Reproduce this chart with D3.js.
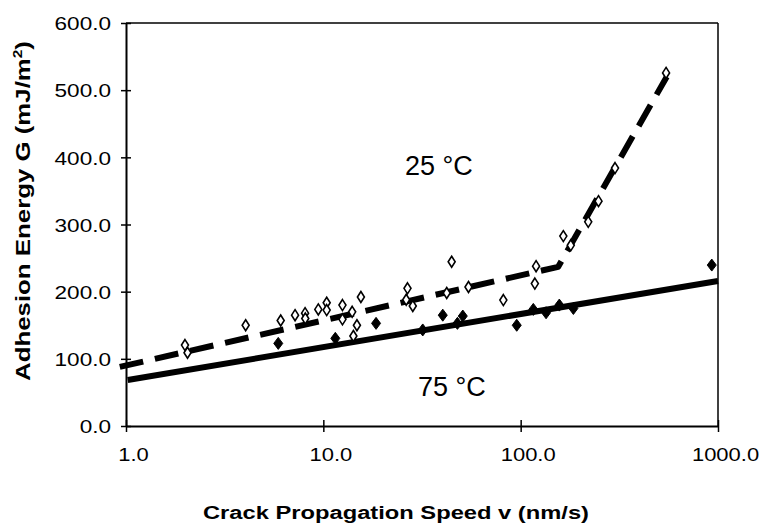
<!DOCTYPE html>
<html>
<head>
<meta charset="utf-8">
<script src="https://cdn.jsdelivr.net/npm/d3@7"></script>
<style>
  html, body { margin: 0; padding: 0; background: #fff; }
  svg { display: block; }
  text { font-family: Arial, "Liberation Sans", Helvetica, sans-serif; fill: #000; }
</style>
</head>
<body>
<svg id="chart" width="766" height="525"></svg>
<script>
// ---- data ----
const xTicks = [1, 10, 100, 1000];
const xTickLabels = ["1.0", "10.0", "100.0", "1000.0"];
const yTicks = [0, 100, 200, 300, 400, 500, 600];
const yTickLabels = ["0.0", "100.0", "200.0", "300.0", "400.0", "500.0", "600.0"];

// 25 °C measurements (open diamonds): speed v (nm/s), G (mJ/m²)
const v25 = [1.99, 2.05, 4.04, 6.08, 7.19, 8.08, 8.1, 9.43, 10.4, 10.4, 12.5, 12.5, 14.2, 14.8, 14.0, 15.5,
             26.7, 26.3, 28.4, 42.2, 44.7, 54.4, 81.7, 118, 119.7, 164.5, 179.4, 220, 248, 300.7, 545.6];
const g25 = [120.5, 109, 150, 157, 165, 168, 160, 173.6, 183.5, 172.6, 180, 158.8, 134, 150, 170, 192,
             205, 188, 178.6, 198, 244.5, 207, 187.5, 212, 238, 282.7, 269, 304, 334.8, 384, 525.7];

// 75 °C measurements (filled diamonds)
const v75 = [5.91, 11.5, 18.5, 31.9, 40.3, 47.8, 50.9, 95.5, 115.9, 134.5, 157, 185, 930];
const g75 = [123, 130.5, 152.8, 143, 165, 152.8, 163.7, 150, 173.6, 168.6, 180, 175, 239.6];

// fitted trend lines
const fit25V = [0.93, 155, 550];
const fit25G = [88, 237, 520];
const fit75V = [1.02, 1000];
const fit75G = [68.5, 216];

const labels = ["25 °C", "75 °C"];
const xTitle = "Crack Propagation Speed v (nm/s)";
const yTitle = "Adhesion Energy G (mJ/m²)";

// ---- layout ----
const svg = d3.select("#chart");
const L = 126, R = 718, T = 23, B = 426;

const x = d3.scaleLog().domain([1, 1000]).range([L, R]);
const y = d3.scaleLinear().domain([0, 600]).range([B, T]);

// plot frame (top + right)
svg.append("line").attr("x1", L).attr("x2", R).attr("y1", T).attr("y2", T)
  .attr("stroke", "#000").attr("stroke-width", 1.5);
svg.append("line").attr("x1", R).attr("x2", R).attr("y1", T).attr("y2", B)
  .attr("stroke", "#000").attr("stroke-width", 1.5);

// axes
const xAxis = d3.axisBottom(x).tickValues(xTicks).tickFormat((d, i) => xTickLabels[i]).tickSize(6).tickSizeOuter(0);
const gx = svg.append("g").attr("transform", `translate(0,${B})`).call(xAxis);
gx.select(".domain").attr("stroke", "#000").attr("stroke-width", 2);
gx.selectAll(".tick line").attr("stroke", "#000").attr("stroke-width", 1.5).attr("y1", -6).attr("y2", 6);
gx.selectAll(".tick text").attr("font-size", 18).attr("x", 7).attr("y", 35).attr("dy", 0)
  .style("font-family", "Arial, 'Liberation Sans', sans-serif");

const yAxis = d3.axisLeft(y).tickValues(yTicks).tickFormat((d, i) => yTickLabels[i]).tickSize(5).tickSizeOuter(0);
const gy = svg.append("g").attr("transform", `translate(${L},0)`).call(yAxis);
gy.select(".domain").attr("stroke", "#000").attr("stroke-width", 2);
gy.selectAll(".tick line").attr("stroke", "#000").attr("stroke-width", 1.5).attr("x1", -5).attr("x2", 5);
gy.selectAll(".tick text").attr("font-size", 18.5).attr("x", -15).attr("dy", "0.36em")
  .style("font-family", "Arial, 'Liberation Sans', sans-serif");

// stretch tick labels horizontally to match the original lettering
function stretch(sel, f) {
  sel.each(function() {
    const w = this.getComputedTextLength();
    d3.select(this).attr("textLength", w * f).attr("lengthAdjust", "spacingAndGlyphs");
  });
}
stretch(gx.selectAll(".tick text"), 1.22);
stretch(gy.selectAll(".tick text"), 1.22);

// trend lines
const line = d3.line().x(d => x(d[0])).y(d => y(d[1]));
const plot = svg.append("g");
plot.append("path").datum(fit75V.map((v, i) => [v, fit75G[i]]))
  .attr("d", line).attr("fill", "none").attr("stroke", "#000").attr("stroke-width", 6);
plot.append("path").datum(fit25V.map((v, i) => [v, fit25G[i]]))
  .attr("d", line).attr("fill", "none").attr("stroke", "#000").attr("stroke-width", 6)
  .attr("stroke-dasharray", "24,12").attr("stroke-linejoin", "round");

// diamonds
const diamond = (w, h) => `M0,${-h/2}L${w/2},0L0,${h/2}L${-w/2},0Z`;
plot.selectAll(".d25").data(v25.map((v, i) => [v, g25[i]])).join("path")
  .attr("class", "d25")
  .attr("transform", d => `translate(${x(d[0])},${y(d[1])})`)
  .attr("d", diamond(7, 11)).attr("fill", "#fff").attr("stroke", "#000").attr("stroke-width", 1.6);
plot.selectAll(".d75").data(v75.map((v, i) => [v, g75[i]])).join("path")
  .attr("class", "d75")
  .attr("transform", d => `translate(${x(d[0])},${y(d[1])})`)
  .attr("d", diamond(9, 12)).attr("fill", "#000").attr("stroke", "#000").attr("stroke-width", 1);

// annotations
svg.append("text").attr("x", 405).attr("y", 175).attr("font-size", 27).text(labels[0]);
svg.append("text").attr("x", 418).attr("y", 396).attr("font-size", 27).text(labels[1]);

// axis titles
const xt = svg.append("text").attr("x", 396).attr("y", 519).attr("text-anchor", "middle")
  .attr("font-size", 17.5).attr("font-weight", "bold").text(xTitle);
xt.attr("textLength", 386).attr("lengthAdjust", "spacingAndGlyphs");

const yt = svg.append("text").attr("transform", "translate(30,211) rotate(-90)").attr("text-anchor", "middle")
  .attr("font-size", 20).attr("font-weight", "bold");
yt.append("tspan").text("Adhesion Energy G (mJ/m");
yt.append("tspan").attr("font-size", 12).attr("dy", -8).text("2");
yt.append("tspan").attr("dy", 8).text(")");
yt.attr("textLength", 340).attr("lengthAdjust", "spacingAndGlyphs");
</script>
</body>
</html>
